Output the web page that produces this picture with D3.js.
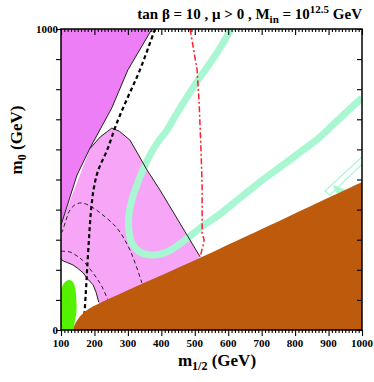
<!DOCTYPE html>
<html>
<head>
<meta charset="utf-8">
<script src="https://cdn.jsdelivr.net/npm/d3@7"></script>
<style>
  body { margin: 0; background: #fff; }
  text { font-family: "Liberation Serif", "DejaVu Serif", serif; font-weight: bold; }
</style>
</head>
<body>
<svg id="chart" width="374" height="382"></svg>
<script>
// contour points, [m1/2, m0] in GeV
const staRegion = [[136,0],[140,15],[150,35],[166,56],[190,75],[217,90],[260,112],[336,150],[516,240],[1000,492]];
const bsgRegion = [[100,0],[100,130],[105,148],[115,162],[125,166],[135,160],[142,140],[146,100],[146,60],[140,20],[136,0]];
const darkRegion = [[100,1000],[372,1000],[300,864],[252,738],[187,605],[148,515],[103,359],[100,350]];
const darkLine = [[372,1000],[300,864],[252,738],[187,605],[148,515],[103,359],[100,350]];
const pinkTop = [[187,603],[217,641],[252,671],[275,660],[306,631],[330,585],[357,532],[396,465],[471,326],[516,243]];
const pinkLow = [[100,236],[106,230],[136,216],[150,205],[166,190],[181,168],[196,150],[205,125],[213,92]];
const chargino = [[381,1000],[336,864],[300,774],[267,688],[238,598],[211,530],[198,470],[190,400],[184,309],[178,199],[174,120],[170,50]];
const higgsA = [[100,322],[103,326],[115,365],[127,399],[145,418],[163,422],[190,410],[217,389],[267,339],[306,266],[342,156]];
const higgsB = [[100,262],[127,259],[145,248],[163,233],[196,189],[223,143],[240,100]];
const gmuon = [[486,1000],[507,864],[513,754],[519,588],[522,475],[522,322],[528,299],[525,282],[516,243]];
const wmap = [[608,1000],[581,947],[546,887],[510,831],[477,774],[447,721],[417,664],[390,625],[366,581],[345,532],[327,482],[312,432],[303,382],[303,332],[312,289],[336,259],[372,249],[417,259],[471,299],[516,339],[575,385],[635,439],[695,492],[755,541],[815,591],[874,641],[934,704],[1000,771]];
const wmapThin = [[1000,575],[889,462],[904,448],[1000,551]];
const wmapBit = [[913,482],[925,452],[955,465]];
const xTicks = [100,200,300,400,500,600,700,800,900,1000];
const yTicks = [0,100,200,300,400,500,600,700,800,900,1000];

const svg = d3.select("#chart");
const margin = {top: 29, left: 61, size: 301};

let x = d3.scaleLinear().domain([100, 1000]).range([margin.left, margin.left + margin.size]);
let y = d3.scaleLinear().domain([0, 1000]).range([margin.top + margin.size, margin.top]);

svg.append("clipPath").attr("id", "clip")
    .append("rect")
    .attr("x", margin.left).attr("y", margin.top)
    .attr("width", margin.size).attr("height", margin.size);

let plot = svg.append("g").attr("clip-path", "url(#clip)");

let line = d3.line().x(d => x(d[0])).y(d => y(d[1]));
let smooth = d3.line().x(d => x(d[0])).y(d => y(d[1])).curve(d3.curveCatmullRom);

// light pink region: top boundary, down under the stau region, back along lower boundary
let pinkArea = [[100,352]].concat(pinkTop, [[400,100],[213,80]], pinkLow.slice().reverse());
plot.append("path").attr("d", line(pinkArea) + "Z").attr("fill", "#f7a6f7");
plot.append("path").attr("d", line(darkRegion) + "Z").attr("fill", "#ed7ef5");

// wmap strip
plot.append("path").attr("d", smooth(wmap))
    .attr("fill", "none").attr("stroke", "#a8f7d2").attr("stroke-width", 7)
    .attr("stroke-linejoin", "round");
plot.append("path").attr("d", line(wmapThin))
    .attr("fill", "none").attr("stroke", "#a8f7d2").attr("stroke-width", 1.2);
plot.append("path").attr("d", line(wmapBit) + "Z").attr("fill", "#a8f7d2");

// boundaries
[darkLine, pinkTop, pinkLow].forEach(pts => {
    plot.append("path").attr("d", line(pts))
        .attr("fill", "none").attr("stroke", "#222").attr("stroke-width", 1);
});

plot.append("path").attr("d", smooth(higgsA))
    .attr("fill", "none").attr("stroke", "#222").attr("stroke-width", 1)
    .attr("stroke-dasharray", "4,3");
plot.append("path").attr("d", smooth(higgsB))
    .attr("fill", "none").attr("stroke", "#222").attr("stroke-width", 1)
    .attr("stroke-dasharray", "4,3");
plot.append("path").attr("d", smooth(chargino))
    .attr("fill", "none").attr("stroke", "#000").attr("stroke-width", 2.2)
    .attr("stroke-dasharray", "4,3");
plot.append("path").attr("d", line(gmuon))
    .attr("fill", "none").attr("stroke", "#ff1e2d").attr("stroke-width", 1.5)
    .attr("stroke-dasharray", "6,2.5,2,2.5");

plot.append("path").attr("d", smooth(bsgRegion) + "Z").attr("fill", "#55f200");
plot.append("path").attr("d", smooth(staRegion) + "L" + x(1000) + "," + y(0) + "Z")
    .attr("fill", "#bd5a0c");

// axes
let minor = d3.range(100, 1001, 10);
let gx = svg.append("g").attr("transform", `translate(0,${y(0)})`);
gx.call(d3.axisBottom(x).tickValues(minor).tickSize(3).tickFormat(""));
gx.call(g => g.selectAll(".tick").filter(d => d % 100 === 0).select("line").attr("y2", 6));
let gxTop = svg.append("g").attr("transform", `translate(0,${y(1000)})`);
gxTop.call(d3.axisBottom(x).tickValues(minor).tickSize(3).tickFormat(""));
gxTop.call(g => g.selectAll(".tick").filter(d => d % 100 === 0).select("line").attr("y2", 6));

let gy = svg.append("g").attr("transform", `translate(${x(100)},0)`);
gy.call(d3.axisLeft(y).tickValues(yTicks).tickSize(5).tickFormat(""));
let gyR = svg.append("g").attr("transform", `translate(${x(1000)},0)`);
gyR.call(d3.axisLeft(y).tickValues(yTicks).tickSize(5).tickFormat(""));

svg.selectAll(".domain").remove();
svg.selectAll(".tick line").attr("stroke", "#000").attr("stroke-width", 1.1);

svg.append("rect")
    .attr("x", margin.left).attr("y", margin.top)
    .attr("width", margin.size).attr("height", margin.size)
    .attr("fill", "none").attr("stroke", "#000").attr("stroke-width", 1.5);

svg.append("g").selectAll("text").data(xTicks).join("text")
    .attr("x", d => x(d)).attr("y", y(0) + 17)
    .attr("text-anchor", "middle").attr("font-size", 11)
    .text(d => d);

svg.append("g").selectAll("text").data([0, 1000]).join("text")
    .attr("x", x(100) - 3).attr("y", d => y(d) + 3.5)
    .attr("text-anchor", "end").attr("font-size", 11)
    .text(d => d);

// axis titles
let xt = svg.append("text").attr("x", 217).attr("y", 366)
    .attr("text-anchor", "middle").attr("font-size", 17);
xt.append("tspan").text("m");
xt.append("tspan").attr("font-size", 12).attr("dy", 4).text("1/2");
xt.append("tspan").attr("dy", -4).text(" (GeV)");

let yt = svg.append("text")
    .attr("transform", "translate(22,140) rotate(-90)")
    .attr("text-anchor", "middle").attr("font-size", 17);
yt.append("tspan").text("m");
yt.append("tspan").attr("font-size", 12).attr("dy", 4).text("0");
yt.append("tspan").attr("dy", -4).text(" (GeV)");

// title
let title = svg.append("text").attr("x", 362).attr("y", 19)
    .attr("text-anchor", "end").attr("font-size", 15);
title.append("tspan").text("tan \u03b2 = 10 ,  \u03bc > 0 , M");
title.append("tspan").attr("font-size", 11).attr("dy", 4).text("in");
title.append("tspan").attr("dy", -4).text(" = 10");
title.append("tspan").attr("font-size", 11).attr("dy", -6).text("12.5");
title.append("tspan").attr("dy", 6).text(" GeV");
</script>
</body>
</html>
